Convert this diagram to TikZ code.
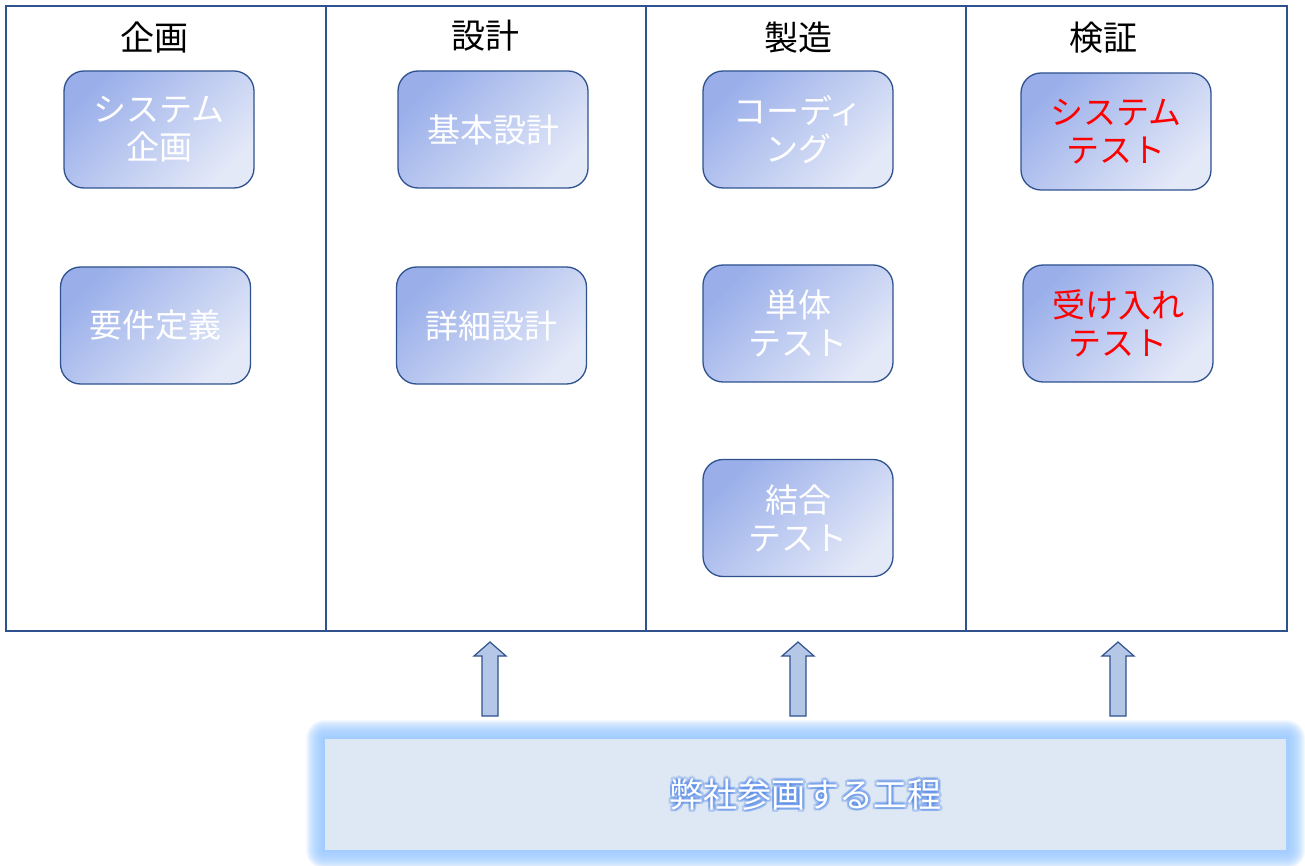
\documentclass[tikz,border=0pt]{standalone}
\usepackage{fontspec}
\setmainfont{Noto Sans CJK JP}
\definecolor{frameblue}{HTML}{2F528F}
\definecolor{gdark}{HTML}{9AAFEA}
\definecolor{glight}{HTML}{E4E9F8}
\definecolor{arrowfill}{HTML}{B4C7E7}
\definecolor{boxfill}{HTML}{DEE8F4}
\definecolor{glowblue}{HTML}{9CCBFF}
\definecolor{textglow}{HTML}{4F86E8}
\begin{document}
\begin{tikzpicture}[x=1pt,y=-1pt,
  colframe/.style={draw=frameblue, line width=1.4pt},
  proc/.style={draw=frameblue, line width=1.3pt, rounded corners=20pt,
    top color=gdark, bottom color=glight, shading angle=45,
    minimum width=190pt, minimum height=117pt, inner sep=0pt,
    text=white, align=center, font=\fontsize{33}{38}\selectfont},
  redtext/.style={text=red},
  hdr/.style={font=\fontsize{34}{36}\selectfont, text=black, inner sep=0pt},
  blockarrow/.style={fill=arrowfill, draw=frameblue, line width=1.2pt, line join=miter},
  bottombox/.style={fill=boxfill, minimum width=961pt, minimum height=111pt, inner sep=0pt,
    text=white, font=\fontsize{34}{38}\selectfont},
  glowtext/.style={text=textglow, opacity=0.3, font=\fontsize{34}{38}\selectfont, inner sep=0pt}]
\useasboundingbox (0,0) rectangle (1305,866);
\fill[white] (0,0) rectangle (1305,866);

% columns
\draw[colframe] (6,6) rectangle (326,631);
\draw[colframe] (326,6) rectangle (646,631);
\draw[colframe] (646,6) rectangle (966,631);
\draw[colframe] (966,6) rectangle (1287,631);

% headers
\node[hdr] (h1) at (154,38) {企画};
\node[hdr] (h2) at (485,36) {設計};
\node[hdr] (h3) at (798,38) {製造};
\node[hdr] (h4) at (1103,38) {検証};

% process boxes
\node[proc] (sysplan) at (159,129.5) {システム\\企画};
\node[proc] (req) at (155.5,325.5) {要件定義};
\node[proc] (basic) at (493,129.5) {基本設計};
\node[proc] (detail) at (491.5,325.5) {詳細設計};
\node[proc] (coding) at (798,129.5) {コーディ\\ング};
\node[proc] (unit) at (798,323.5) {単体\\テスト};
\node[proc] (integ) at (798,518) {結合\\テスト};
\node[proc, redtext] (systest) at (1116,131.5) {システム\\テスト};
\node[proc, redtext] (accept) at (1118,323.5) {受け入れ\\テスト};

% bottom box glow
\foreach \i in {1,...,19} {
  \fill[glowblue, opacity=0.11, rounded corners=\i pt] (325-\i,739-\i) rectangle (1286+\i,850+\i);
}
\node[bottombox] (scope) at (805.5,794.5) {};
\foreach \dx/\dy [count=\k] in {2.5/0,-2.5/0,0/2.5,0/-2.5,1.8/1.8,-1.8/1.8,1.8/-1.8,-1.8/-1.8} {
  \node[glowtext] (glow\k) at (805.5+\dx,794.5+\dy) {弊社参画する工程};
}
\node[bottombox, fill=none] (scopetext) at (805.5,794.5) {弊社参画する工程};

% block arrows
\foreach \x [count=\k] in {490,798,1118} {
  \coordinate (tip\k) at (\x,642);
  \draw[blockarrow] (tip\k) -- ++(16,14) -- ++(-8,0) -- ++(0,60) -- ++(-16,0) -- ++(0,-60) -- ++(-8,0) -- cycle;
}
\end{tikzpicture}
\end{document}
